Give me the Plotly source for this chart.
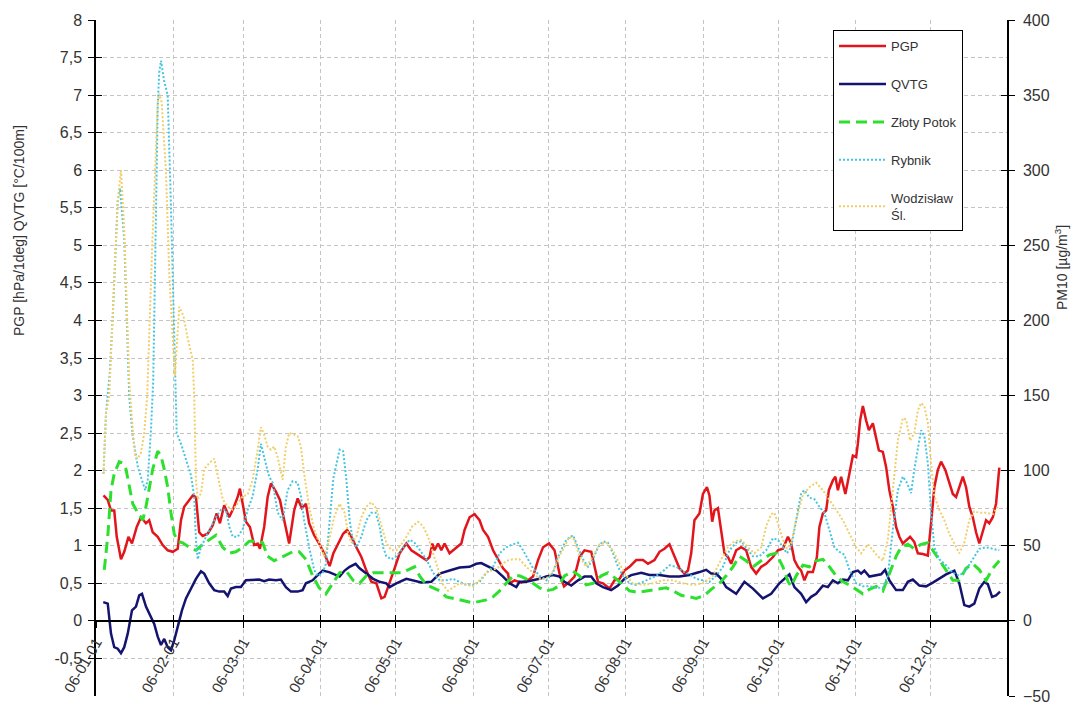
import pandas as pd
import plotly.graph_objects as go

# ---------------- data (day offset from 2006-01-01, value) ----------------
pgp_day = [3, 4.7, 6, 7.3, 8.3, 10, 11.3, 13, 14.4, 16.3, 18, 20, 21.3, 22.7, 24.7, 26.7, 28.7, 30.7, 32.7, 34,
           35.3, 37.3, 38.7, 40, 41.3, 42.7, 44.7, 46.7, 48.3, 49.6, 51.3, 53.3, 55, 56.7, 57.6, 58.7, 60, 61.6,
           63.3, 64.7, 65.6, 67.3, 68.7, 70, 72, 73.6, 75.3, 77.3, 79.3, 80.7, 82.4, 84, 85.3, 87.3, 89.3, 91.3,
           93.5, 95, 96.2, 98.9, 100.5, 102.2, 104.2, 106.2, 108.2, 110.2, 112.2, 114.2, 115.5, 117.5, 119.5,
           121.5, 124.2, 126.2, 128.2, 130.2, 132.2, 133.5, 134.6, 135.5, 136.9, 138.2, 139.5, 141.5, 144.2,
           146.2, 147.5, 149.5, 151.5, 153.5, 154.9, 156.9, 158.9, 160.9, 162.9, 164.9, 165.5, 167.5, 170.2,
           172.9, 174.9, 176.9, 178.9, 181.3, 183.5, 185.5, 187.3, 189.5, 191.5, 193.5, 195.5, 198.2, 199.5,
           200.9, 202.9, 205.5, 207.5, 209.5, 211.5, 213.5, 216.2, 218.9, 220.9, 223.5, 225.5, 227.5, 229.5,
           231.5, 233.5, 235.5, 236.9, 238.2, 239.5, 241.5, 242.9, 244.5, 245.5, 246.6, 247.5, 248.9, 250.2,
           251.5, 252.9, 254.2, 256.2, 258.2, 260.2, 262.2, 264.2, 266.2, 268.2, 270.9, 272.9, 274.9, 276.9,
           278.2, 279.5, 280.9, 282.2, 283.5, 284.9, 286.9, 288.5, 289.5, 290.9, 292.2, 293.3, 294.9, 295.9,
           296.9, 298.2, 299.9, 301.5, 302.9, 304.2, 304.9, 305.8, 306.9, 308.2, 309.3, 310.9, 311.9, 313.3,
           314.9, 316.2, 317.5, 318.9, 320.2, 321.5, 322.9, 324.2, 325.8, 327.5, 328.9, 330.9, 332.9, 334.2,
           335.5, 336.9, 338.2, 339.9, 341.5, 342.9, 344.2, 345.5, 346.9, 348.2, 349.5, 350.9, 352.2, 353.5,
           354.9, 356.2, 357.5, 358.9, 360.2, 361.5]
pgp_val = [1.67, 1.61, 1.47, 1.47, 1.12, 0.82, 0.92, 1.12, 1.03, 1.25, 1.38, 1.30, 1.34, 1.18, 1.12, 1.01, 0.94,
           0.92, 0.96, 1.34, 1.52, 1.61, 1.67, 1.65, 1.18, 1.13, 1.16, 1.27, 1.43, 1.30, 1.54, 1.38, 1.50, 1.65,
           1.76, 1.56, 1.32, 1.25, 1.01, 1.03, 0.96, 1.25, 1.65, 1.83, 1.72, 1.61, 1.34, 1.03, 1.47, 1.63, 1.50,
           1.56, 1.30, 1.14, 1.03, 0.90, 0.73, 0.90, 0.98, 1.16, 1.21, 1.12, 0.98, 0.85, 0.67, 0.52, 0.50, 0.30,
           0.32, 0.50, 0.70, 0.90, 1.03, 0.94, 0.90, 0.85, 0.81, 0.85, 1.03, 0.94, 1.03, 0.94, 1.03, 0.90, 0.98,
           1.03, 1.21, 1.38, 1.42, 1.34, 1.21, 1.12, 0.94, 0.81, 0.70, 0.63, 0.50, 0.54, 0.51, 0.54, 0.59, 0.81,
           0.98, 1.03, 0.94, 0.63, 0.46, 0.52, 0.59, 0.85, 0.94, 0.92, 0.72, 0.52, 0.50, 0.43, 0.54, 0.56, 0.67,
           0.72, 0.81, 0.81, 0.76, 0.81, 0.92, 0.96, 1.02, 0.85, 0.70, 0.63, 0.67, 0.90, 1.34, 1.43, 1.69, 1.78,
           1.67, 1.32, 1.47, 1.50, 1.21, 0.90, 0.85, 0.76, 0.94, 0.98, 0.94, 0.72, 0.63, 0.72, 0.76, 0.85, 0.94,
           0.96, 1.12, 1.03, 0.81, 0.72, 0.67, 0.54, 0.65, 0.65, 0.85, 1.25, 1.43, 1.47, 1.74, 1.87, 1.92, 1.74,
           1.92, 1.69, 1.96, 2.20, 2.18, 2.36, 2.67, 2.86, 2.67, 2.54, 2.63, 2.49, 2.27, 2.25, 2.05, 1.74, 1.52,
           1.25, 1.12, 1.03, 1.07, 1.12, 1.05, 0.90, 0.89, 0.87, 1.30, 1.78, 2.01, 2.12, 2.01, 1.83, 1.69, 1.65,
           1.78, 1.92, 1.78, 1.52, 1.38, 1.18, 1.03, 1.21, 1.34, 1.30, 1.38, 1.56, 2.04]

qvtg_day = [2.9, 4.7, 6, 7.3, 8.7, 10, 11.3, 12.7, 14.4, 16, 17.3, 18.4, 20, 21.3, 23.3, 24.7, 26, 27.3, 28.7, 30,
            31.3, 32.7, 34.4, 36, 38, 40, 42, 43.3, 45.3, 47.3, 49.3, 51.3, 52.7, 54, 56, 58, 60, 62.7, 65.3,
            67.3, 69.3, 72, 74, 76, 78, 80.7, 82.7, 84, 86.7, 88.7, 90.7, 93.3, 95.3, 97.5, 99.5, 101.5, 103.9,
            105.5, 108.2, 110.9, 113.5, 116.2, 117.5, 120.2, 124.2, 126.9, 130.2, 134.2, 137.5, 141.5, 145.5,
            149.5, 152.2, 154.2, 157.5, 160.2, 162.9, 165.5, 168.2, 169.5, 172.2, 174.9, 177.5, 180.2, 182.9,
            185.5, 187.5, 190.2, 192.9, 195.5, 198.2, 200.2, 202.9, 206.2, 208.9, 211.5, 214.2, 218.2, 221.5,
            225.5, 229.5, 233.5, 237.5, 241.5, 244.2, 246.2, 248.2, 250.2, 252.2, 256.2, 259.5, 262.9, 266.9,
            270.2, 273.5, 277.5, 279.5, 282.2, 284.2, 286.2, 288.2, 290.9, 292.9, 294.9, 296.9, 298.9, 300.9,
            302.9, 304.9, 306.2, 307.5, 309.5, 312.2, 314.2, 315.8, 317.5, 320.2, 322.9, 324.9, 326.9, 329.5,
            332.2, 334.9, 337.5, 340.2, 343.5, 345.5, 347.5, 349.5, 351.5, 353.5, 355.5, 356.9, 358.6, 360.2,
            361.8]
qvtg_val = [0.25, 0.23, -0.17, -0.35, -0.37, -0.43, -0.35, -0.17, 0.14, 0.19, 0.34, 0.36, 0.19, 0.10, -0.04,
            -0.21, -0.32, -0.24, -0.35, -0.39, -0.26, -0.08, 0.14, 0.30, 0.43, 0.56, 0.66, 0.63, 0.50, 0.41,
            0.39, 0.39, 0.33, 0.43, 0.45, 0.45, 0.54, 0.54, 0.55, 0.53, 0.55, 0.54, 0.55, 0.45, 0.39, 0.39, 0.41,
            0.50, 0.54, 0.61, 0.67, 0.65, 0.62, 0.59, 0.67, 0.72, 0.76, 0.70, 0.63, 0.56, 0.52, 0.50, 0.45, 0.50,
            0.56, 0.54, 0.51, 0.52, 0.63, 0.67, 0.71, 0.72, 0.76, 0.77, 0.72, 0.67, 0.59, 0.50, 0.45, 0.52, 0.52,
            0.54, 0.56, 0.59, 0.61, 0.59, 0.52, 0.47, 0.54, 0.59, 0.59, 0.50, 0.45, 0.41, 0.47, 0.56, 0.61, 0.64,
            0.61, 0.61, 0.59, 0.59, 0.61, 0.65, 0.68, 0.63, 0.63, 0.56, 0.45, 0.36, 0.52, 0.43, 0.30, 0.36, 0.50,
            0.62, 0.45, 0.36, 0.25, 0.32, 0.36, 0.47, 0.45, 0.54, 0.50, 0.55, 0.54, 0.65, 0.67, 0.63, 0.67, 0.59,
            0.61, 0.62, 0.68, 0.54, 0.41, 0.41, 0.52, 0.55, 0.47, 0.46, 0.51, 0.56, 0.62, 0.67, 0.50, 0.21, 0.19,
            0.23, 0.43, 0.52, 0.49, 0.32, 0.34, 0.39]

zp_day = [3.3, 4.7, 6, 7.3, 9.3, 10.7, 12, 13.3, 14.7, 16.7, 18.7, 20, 21.3, 22.7, 24.7, 26, 27.3, 28.7, 30, 31.3,
          32.7, 34.7, 37.3, 40, 42.7, 45.3, 48, 50.7, 53.3, 56, 58.7, 61.3, 64, 66.7, 68.7, 71.3, 74.7, 78.7,
          81.3, 84, 86.7, 89.3, 92, 94.8, 97.5, 100.2, 102.9, 105.5, 108.2, 110.9, 113.5, 116.9, 119.5, 122.2,
          124.9, 127.5, 129.5, 132.2, 134.9, 137.5, 140.2, 142.9, 145.5, 148.2, 150.9, 153.5, 156.2, 158.9,
          161.5, 164.2, 166.9, 169.5, 172.2, 174.9, 177.5, 180.2, 182.9, 185, 187.5, 190.9, 193.5, 196.2,
          198.9, 202.2, 204.9, 208.2, 210.9, 213.5, 216.9, 220.2, 224.2, 228.2, 230.9, 234.2, 237.5, 240.2,
          243.5, 246.2, 249.5, 252.2, 254.9, 257.5, 260.2, 262.9, 266.2, 269.5, 272.2, 274.9, 277, 278.2,
          280.2, 282.9, 285.5, 288.2, 290.9, 293.5, 296.2, 298.9, 301.5, 304.2, 306.9, 309.5, 312.2, 314.9,
          317.5, 320.2, 322.2, 324.9, 327.5, 330.2, 332.9, 334.9, 337.5, 340.2, 342.9, 345.5, 348.2, 350.9,
          353.5, 356.2, 358.9, 361.5]
zp_val = [34, 56, 87, 98, 106, 105, 101, 89, 78, 72, 67, 76, 89, 101, 113, 110, 101, 89, 72, 58, 53, 52, 49, 47,
          51, 54, 57, 49, 45, 46, 49, 53, 53, 52, 43, 40, 43, 46, 46, 41, 30, 22, 18, 25, 32, 33, 27, 25, 30, 32,
          32, 32, 32, 32, 34, 36, 30, 24, 22, 20, 16, 15, 14, 13, 12, 13, 14, 16, 20, 25, 30, 30, 28, 25, 22, 20,
          21, 23, 30, 33, 30, 24, 25, 30, 32, 28, 24, 20, 19, 20, 21, 22, 20, 17, 16, 15, 17, 21, 25, 30, 36, 43,
          40, 36, 40, 44, 45, 36, 26, 23, 30, 37, 36, 40, 41, 36, 30, 26, 24, 21, 18, 21, 23, 20, 32, 43, 49, 51,
          48, 51, 52, 47, 40, 34, 27, 27, 35, 38, 34, 27, 35, 40]

ryb_day = [3, 4, 5.5, 6.7, 8.7, 9.6, 11.3, 12.7, 13.3, 14.7, 16.7, 18.7, 19.7, 20.7, 22, 22.9, 24, 24.7, 25.3, 26,
           27.3, 28, 28.7, 30, 31, 31.7, 32.3, 34, 36, 38, 39.3, 40, 40.7, 42, 44, 46, 48, 50, 52, 53.3, 54.7,
           56.7, 58.7, 60.7, 62.7, 64.7, 66, 67.3, 69.3, 70.7, 72.7, 74.7, 76.7, 78.7, 80.7, 82, 83.3, 85.3,
           87.3, 88.7, 90.7, 92, 93.5, 95, 97.5, 98.9, 100.2, 101.5, 102.9, 104.2, 106.2, 108.2, 110.2, 111.9,
           113.5, 114.9, 116.2, 118.2, 120.2, 122.9, 125.5, 127.5, 129.5, 132.2, 134.9, 137.5, 140.2, 142.9,
           145.5, 148.2, 150.9, 153.5, 156.2, 158.9, 161.5, 164.2, 166.9, 168.9, 170.9, 172.9, 174.9, 177.5,
           180.2, 182.9, 185, 188.2, 190.9, 192.9, 194.9, 196.9, 198.9, 200.9, 202.9, 204.9, 206.9, 208.9,
           210.9, 213.5, 216.2, 218.9, 221.5, 224.2, 226.9, 229.5, 232.2, 234.9, 237.5, 240.2, 242.9, 245.5,
           248.2, 250.9, 253.5, 256.2, 258.2, 260.2, 262.9, 265.5, 268.2, 270.9, 272.9, 274.9, 276.5, 278.2,
           280.2, 282.2, 283.5, 285.5, 287.5, 289.5, 291.5, 293.5, 295.5, 297.5, 299.5, 301.5, 304.2, 306.9,
           309.5, 312.2, 314.9, 316.9, 318.9, 320.9, 322.9, 324.5, 326.2, 327.5, 328.9, 330.2, 331.5, 332.9,
           334.2, 335.5, 337.5, 340.2, 342.9, 345.5, 348.2, 350.9, 353.5, 356.2, 358.9, 361.5]
ryb_val = [98, 138, 165, 203, 280, 288, 254, 188, 149, 123, 103, 92, 87, 94, 127, 160, 275, 343, 365, 373, 359,
           355, 350, 276, 210, 160, 125, 118, 107, 97, 83, 54, 41, 49, 56, 63, 69, 74, 74, 63, 56, 56, 61, 74, 83,
           101, 118, 109, 96, 92, 72, 67, 87, 93, 92, 83, 67, 49, 34, 30, 32, 38, 65, 95, 114, 113, 94, 67, 52,
           49, 56, 67, 72, 72, 63, 49, 43, 41, 43, 49, 54, 52, 47, 41, 32, 27, 27, 28, 26, 24, 24, 26, 32, 36, 45,
           49, 51, 52, 47, 41, 35, 30, 27, 32, 43, 54, 57, 49, 41, 36, 41, 49, 53, 52, 45, 36, 30, 25, 24, 26, 28,
           30, 33, 37, 36, 33, 31, 28, 27, 26, 30, 36, 47, 52, 53, 49, 43, 43, 47, 55, 54, 49, 45, 49, 67, 85, 87,
           82, 81, 76, 72, 61, 49, 46, 44, 34, 25, 23, 23, 22, 22, 30, 61, 87, 96, 92, 85, 101, 116, 127, 123,
           105, 72, 49, 41, 37, 32, 30, 34, 41, 48, 49, 48, 47]

wod_day = [3, 4, 5.3, 6.7, 8.7, 10, 11.3, 12.7, 13.3, 14.7, 15.7, 16.7, 18, 19.3, 20.5, 22.5, 24.7, 25.3, 26.3,
           28, 29.3, 30.7, 31.6, 33.3, 35, 36.7, 38.7, 39.3, 40, 40.7, 42, 43.3, 45.3, 47.3, 48.7, 50.7, 52.7,
           54.7, 56.7, 58.7, 60.7, 62.7, 64.7, 66, 67.3, 68.7, 70, 71.3, 72.7, 74, 74.7, 76, 77.3, 79.3, 80.7,
           82, 83.3, 85.3, 87.3, 89.3, 91.3, 93.3, 95.3, 97.5, 99.5, 100.9, 102.2, 104.2, 106.2, 108.2, 110.2,
           112.2, 114.2, 116.2, 118.2, 120.2, 122.2, 124.2, 126.6, 128.9, 130.9, 132.9, 134.9, 136.9, 138.9,
           140.9, 142.9, 145.5, 148.2, 150.9, 153.5, 156.2, 158.9, 161.5, 164.2, 166.9, 169.5, 172.2, 174.9,
           177.5, 180.2, 182.9, 185.5, 187.5, 189.5, 191.5, 193.5, 196.2, 198.9, 201.5, 204.2, 206.9, 209.5,
           212.2, 214.9, 218.9, 222.9, 226.9, 230.9, 234.9, 238.9, 242.9, 246.9, 250.2, 252.9, 255.5, 258.2,
           260.9, 263.5, 266.2, 268.2, 270.2, 271.5, 272.9, 274.9, 276.5, 278.2, 280.2, 282.9, 285.5, 288.2,
           290.9, 293.5, 296.2, 298.9, 301.5, 304.2, 306.2, 308.9, 310.9, 312.9, 314.9, 316.9, 318.9, 320.9,
           322.9, 324.2, 325.8, 327.5, 328.9, 330.2, 331.5, 332.9, 334.2, 335.5, 337.5, 339.5, 341.5, 343.5,
           345.5, 347.5, 349.5, 351.5, 353.5, 356.2, 358.9, 360.9]
wod_val = [98, 138, 150, 203, 280, 300, 260, 190, 160, 127, 109, 108, 112, 125, 150, 250, 345, 351, 345, 299, 232,
           188, 163, 209, 203, 188, 174, 150, 94, 81, 85, 101, 105, 108, 96, 81, 76, 74, 78, 83, 84, 94, 114, 129,
           124, 116, 114, 116, 109, 98, 94, 116, 125, 124, 123, 116, 98, 76, 61, 52, 43, 54, 69, 78, 72, 58, 52,
           56, 69, 76, 79, 75, 63, 52, 47, 47, 51, 56, 63, 66, 63, 56, 45, 34, 24, 20, 22, 25, 24, 23, 27, 32, 34,
           36, 40, 41, 41, 36, 32, 28, 28, 33, 43, 50, 56, 54, 43, 36, 43, 51, 52, 47, 38, 30, 25, 24, 25, 27, 27,
           25, 24, 25, 30, 41, 49, 53, 54, 49, 45, 49, 63, 71, 72, 65, 54, 48, 52, 67, 84, 89, 92, 87, 81, 74, 67,
           58, 49, 45, 51, 47, 43, 40, 54, 87, 120, 135, 134, 120, 125, 140, 145, 143, 132, 105, 83, 74, 67, 58,
           51, 45, 52, 67, 73, 72, 72, 71, 76]

month_ticks = ["2006-%02d-01" % m for m in range(1, 13)]
month_labels = ["06-%02d-01" % m for m in range(1, 13)]
left_ticks = [v / 2 for v in range(-1, 17)]
left_labels = [("%g" % v).replace(".", ",") for v in left_ticks]
left_marks = [v / 2 for v in range(-2, 17)]
right_ticks = list(range(-50, 401, 50))

# ---------------------------------------------------------------------------
base = pd.Timestamp("2006-01-01")


def dates(days):
    return base + pd.to_timedelta(days, unit="D")


x_range = ["2006-01-01", "2006-12-31 14:00"]
FONT = "Liberation Sans, Arial, sans-serif"
TXT = "#333333"

fig = go.Figure()
fig.add_trace(go.Scatter(x=dates(pgp_day), y=pgp_val, name="PGP", mode="lines",
                         line=dict(color="#e3151c", width=2.5), legendgroup="a"))
fig.add_trace(go.Scatter(x=dates(qvtg_day), y=qvtg_val, name="QVTG", mode="lines",
                         line=dict(color="#141470", width=2.5), legendgroup="b"))
fig.add_trace(go.Scatter(x=dates(zp_day), y=zp_val, name="Złoty Potok", mode="lines", yaxis="y2",
                         line=dict(color="#2ee02e", width=3, dash="11px,6px"), legendgroup="c"))
fig.add_trace(go.Scatter(x=dates(ryb_day), y=ryb_val, name="Rybnik", mode="lines", yaxis="y2",
                         line=dict(color="#45c6df", width=2, dash="2px,2px"), legendgroup="d"))
fig.add_trace(go.Scatter(x=dates(wod_day), y=wod_val, name="Wodzisław<br>Śl.", mode="lines", yaxis="y2",
                         line=dict(color="#f0cf6a", width=2, dash="2px,2px"), legendgroup="e"))
# helper traces so that the inner half of the crossing tick marks is drawn
fig.add_trace(go.Scatter(x=[None], y=[None], xaxis="x2", yaxis="y3", showlegend=False, hoverinfo="skip"))
fig.add_trace(go.Scatter(x=[None], y=[None], xaxis="x", yaxis="y4", showlegend=False, hoverinfo="skip"))

grid = dict(showgrid=True, gridcolor="#c4c4c4", gridwidth=1, griddash="4px,3px")
pos0 = 1 / 9

fig.update_layout(
    width=1072, height=704,
    margin=dict(l=96, r=65, t=20, b=8, autoexpand=False),
    paper_bgcolor="white", plot_bgcolor="white",
    font=dict(family=FONT, size=14, color=TXT),
    xaxis=dict(type="date", range=x_range, domain=[0, 1], anchor="free", position=pos0,
               tickvals=month_ticks, ticktext=month_labels, tickangle=-60, automargin=False,
               tickfont=dict(size=15, color=TXT), ticks="outside", ticklen=6, tickcolor="black",
               ticklabelstandoff=0, ticklabeloverflow="allow",
               showline=True, linecolor="black", linewidth=1.5, zeroline=False, **grid),
    xaxis2=dict(type="date", range=x_range, overlaying="x", anchor="free", position=pos0,
                tickvals=month_ticks, showticklabels=False, ticks="inside", ticklen=6, tickcolor="black",
                showgrid=False, showline=False, zeroline=False, automargin=False),
    yaxis=dict(range=[-1, 8], anchor="x", tickvals=left_ticks, ticktext=left_labels, automargin=False,
               ticks="outside", ticklen=6, tickcolor="black", showline=True, linecolor="black",
               linewidth=1.5, zeroline=False, tickfont=dict(size=16, color=TXT),
               ticklabelstandoff=3, ticklabeloverflow="allow", **grid),
    yaxis2=dict(range=[-50, 400], overlaying="y", side="right", anchor="x", tickvals=right_ticks,
                ticks="outside", ticklen=6, tickcolor="black", showline=True, linecolor="black",
                linewidth=1.5, showgrid=False, zeroline=False, tickfont=dict(size=16, color=TXT),
                ticklabelstandoff=5, automargin=False, ticklabeloverflow="allow"),
    yaxis3=dict(range=[-1, 8], overlaying="y", side="left", anchor="x2", tickvals=left_marks,
                showticklabels=False, ticks="inside", ticklen=6, tickcolor="black",
                showgrid=False, showline=False, zeroline=False, automargin=False),
    yaxis4=dict(range=[-50, 400], overlaying="y", side="right", anchor="x", tickvals=right_ticks,
                showticklabels=False, ticks="inside", ticklen=6, tickcolor="black",
                showgrid=False, showline=False, zeroline=False, automargin=False),
    legend=dict(x=0.809, y=0.985, xanchor="left", yanchor="top", bgcolor="white",
                bordercolor="black", borderwidth=1, font=dict(size=13, color=TXT),
                tracegroupgap=18, traceorder="grouped", itemwidth=47),
    showlegend=True,
)

fig.add_annotation(text="PGP [hPa/1deg] QVTG [°C/100m]", xref="paper", yref="paper",
                   x=(19 - 96) / 911, y=(696 - 231) / 676, textangle=-90, showarrow=False,
                   xanchor="center", yanchor="middle", font=dict(size=14, color=TXT))
fig.add_annotation(text="PM10 [µg/m<sup>3</sup>]", xref="paper", yref="paper",
                   x=(1061 - 96) / 911, y=(696 - 268) / 676, textangle=-90, showarrow=False,
                   xanchor="center", yanchor="middle", font=dict(size=14, color=TXT))

fig.write_html("out.html")
